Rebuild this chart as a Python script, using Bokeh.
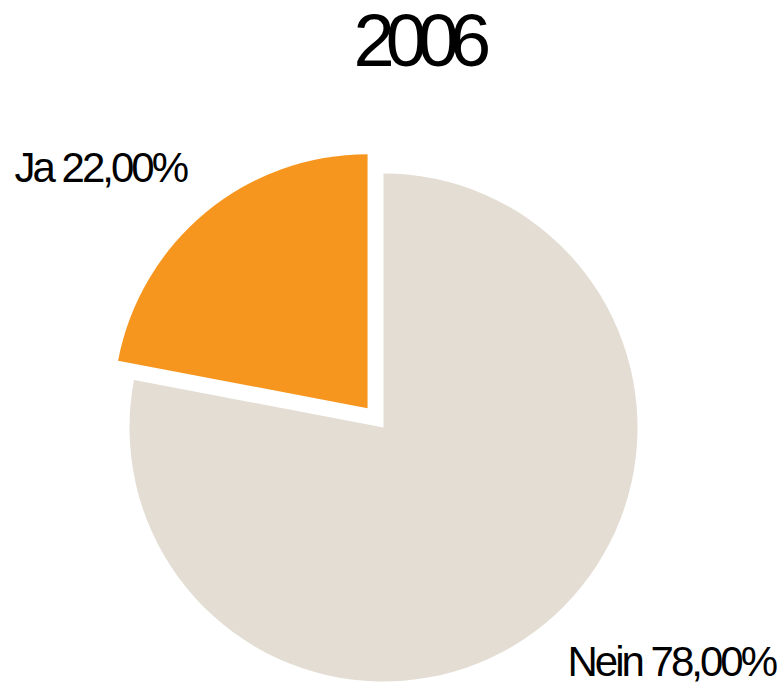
import math
from bokeh.plotting import figure
from bokeh.layouts import column
from bokeh.models import ColumnDataSource, InlineStyleSheet
from bokeh.core.properties import value
from bokeh.embed import file_html
from bokeh.resources import INLINE

title_text = "2006"
categories = ["Ja", "Nein"]
values = [22.0, 78.0]
colors = ["#F7961E", "#E3DDD3"]
explode = [25, 0]  # screen px offset

W = 783
TH = 110          # title strip height
PH = 686 - TH     # pie figure height
k = 0.38          # baseline calibration

def base_fig(h, spacing):
    f = figure(width=W, height=h, x_range=(0, W), y_range=(0, h),
               output_backend="svg", toolbar_location=None, min_border=0)
    f.axis.visible = False
    f.grid.visible = False
    f.outline_line_color = None
    f.background_fill_color = "white"
    f.stylesheets = [InlineStyleSheet(css=f":host {{ letter-spacing: {spacing}px; }} text {{ letter-spacing: {spacing}px; }}")]
    return f

# title strip
t = base_fig(TH, -9)
tsize = 74
t.text(x=[353], y=[TH - (68 - k * tsize)], text=[title_text], text_font=value("Liberation Sans"),
       text_font_size=f"{tsize}px", text_align="left", text_baseline="alphabetic",
       text_color="black")

# pie
p = base_fig(PH, -3)
def sy(screen_y):
    return PH - (screen_y - TH)

cx, cy = 383, sy(427)
R = 254
total = sum(values)
start = math.pi / 2
xs, ys, sa, ea = [], [], [], []
for v, ex in zip(values, explode):
    span = 2 * math.pi * v / total
    mid = start + span / 2
    xs.append(cx + ex * math.cos(mid))
    ys.append(cy + ex * math.sin(mid))
    sa.append(start)
    ea.append(start + span)
    start += span

src = ColumnDataSource(dict(x=xs, y=ys, start=sa, end=ea, color=colors))
p.wedge(x="x", y="y", radius=R, start_angle="start", end_angle="end",
        fill_color="color", line_color=None, source=src)

lab_size = 42
labels = [f"{c} {v:.2f}%".replace(".", ",") for c, v in zip(categories, values)]
lx = [14, 567]
ly = [sy(183 - k * lab_size), sy(677 - k * lab_size)]
p.text(x=lx, y=ly, text=labels, text_font=value("Liberation Sans"),
       text_font_size=f"{lab_size}px", text_align="left", text_baseline="alphabetic",
       text_color="black")

layout = column(t, p, spacing=0)
open("out.html", "w").write(file_html(layout, INLINE))
